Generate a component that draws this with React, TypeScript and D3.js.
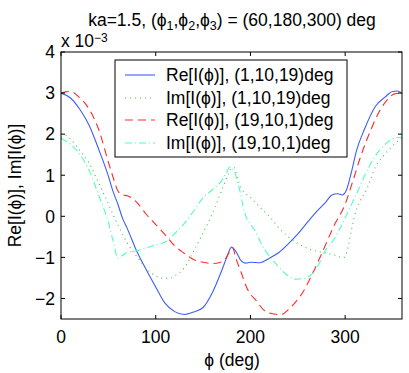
import React from "react";
import * as d3 from "d3";

const phiBlue = [0, 10, 20, 30, 40, 50, 55, 60, 65, 70, 80, 90, 100, 110, 120, 130, 140, 150, 160, 170, 175, 180, 185, 190, 195, 200, 210, 220, 230, 240, 250, 260, 270, 280, 286, 292, 297, 301, 306, 312, 320, 332, 342, 350, 355, 360];
const reBlue = [3.0, 2.88, 2.6, 2.2, 1.62, 0.98, 0.6, 0.3, -0.05, -0.3, -0.85, -1.3, -1.72, -2.12, -2.32, -2.39, -2.33, -2.22, -1.85, -1.3, -1.0, -0.75, -0.87, -1.08, -1.14, -1.12, -1.13, -1.02, -0.88, -0.67, -0.43, -0.15, 0.12, 0.36, 0.52, 0.55, 0.52, 0.62, 1.02, 1.6, 2.1, 2.68, 2.9, 3.04, 3.05, 3.0];

const phiGreen = [0, 5, 10, 20, 30, 40, 50, 55, 60, 70, 80, 90, 100, 110, 115, 120, 130, 140, 150, 160, 170, 177, 180, 183, 186, 190, 195, 200, 210, 220, 230, 240, 250, 260, 270, 280, 290, 298, 302, 306, 311, 316, 322, 332, 343, 353, 360];
const imGreen = [1.92, 1.97, 1.88, 1.6, 1.28, 0.8, 0.3, 0.04, -0.2, -0.65, -0.98, -1.27, -1.45, -1.51, -1.51, -1.45, -1.26, -0.85, -0.4, 0.08, 0.65, 1.05, 1.18, 1.18, 0.95, 0.7, 0.55, 0.46, 0.22, 0.0, -0.28, -0.5, -0.66, -0.78, -0.85, -0.9, -0.95, -1.01, -0.85, -0.4, 0.1, 0.38, 0.62, 1.2, 1.54, 1.78, 1.9];

const phiRed = [0, 5, 10, 20, 30, 40, 50, 55, 60, 65, 70, 80, 90, 100, 110, 120, 130, 140, 150, 160, 167, 173, 177, 181, 185, 190, 195, 200, 205, 215, 225, 232, 240, 250, 255, 265, 275, 288, 300, 308, 317, 327, 336, 345, 352, 360];
const reRed = [3.0, 3.03, 3.04, 2.88, 2.6, 2.1, 1.32, 0.95, 0.62, 0.52, 0.5, 0.34, 0.05, -0.2, -0.45, -0.72, -0.9, -1.05, -1.12, -1.15, -1.13, -1.05, -0.9, -0.76, -1.05, -1.35, -1.68, -1.9, -2.02, -2.3, -2.38, -2.4, -2.27, -2.02, -1.86, -1.42, -0.92, -0.24, 0.3, 0.85, 1.5, 2.1, 2.55, 2.85, 2.98, 3.0];

const phiCyan = [0, 10, 20, 30, 40, 45, 50, 55, 60, 65, 70, 80, 90, 100, 110, 120, 130, 140, 150, 160, 170, 175, 178, 182, 187, 194, 204, 215, 229, 236, 248, 258, 269, 280, 287, 294, 304, 313, 325, 336, 350, 360];
const imCyan = [1.9, 1.75, 1.5, 1.1, 0.5, 0.2, -0.15, -0.6, -1.02, -0.95, -0.88, -0.84, -0.77, -0.7, -0.62, -0.42, -0.18, 0.13, 0.45, 0.65, 0.88, 1.08, 1.2, 1.13, 0.8, 0.08, -0.32, -0.81, -1.21, -1.38, -1.53, -1.5, -1.3, -0.8, -0.6, -0.32, 0.16, 0.6, 1.2, 1.6, 1.88, 1.93];

const xTicks = [0, 100, 200, 300];
const yTicks = [-2, -1, 0, 1, 2, 3, 4];

const seriesLabels = [
  "Re[I(\u03d5)], (1,10,19)deg",
  "Im[I(\u03d5)], (1,10,19)deg",
  "Re[I(\u03d5)], (19,10,1)deg",
  "Im[I(\u03d5)], (19,10,1)deg",
];
const colors = ["#3d5ef5", "#3cc83c", "#ff2a2a", "#4dffbf"];
const dashes = ["", "1,4", "8,5", "7,3,1,3"];

export default function App() {
  const W = 409, H = 373;
  const L = 61, R = 402, T = 52, B = 319;
  const x = d3.scaleLinear().domain([0, 360]).range([L, R]);
  const y = d3.scaleLinear().domain([-2.5, 4]).range([B, T]);
  const line = d3
    .line<[number, number]>()
    .x((d) => x(d[0]))
    .y((d) => y(d[1]))
    .curve(d3.curveMonotoneX);
  const data: [number, number][][] = [
    phiBlue.map((p, i) => [p, reBlue[i]]),
    phiGreen.map((p, i) => [p, imGreen[i]]),
    phiRed.map((p, i) => [p, reRed[i]]),
    phiCyan.map((p, i) => [p, imCyan[i]]),
  ];
  const font = "Liberation Sans, Arial, Helvetica, sans-serif";
  const fs = 17.5;
  const tk = 4;
  const legX = 115, legY = 60, legW = 232, legH = 97;
  const rowY = [75, 98, 120, 143];
  return (
    <svg width={W} height={H} style={{ position: "absolute", left: 0, top: 0, background: "#fff" }} fontFamily={font}>
      <rect x={0} y={0} width={W} height={H} fill="#fff" />
      <defs>
        <clipPath id="plotclip">
          <rect x={L} y={T} width={R - L} height={B - T} />
        </clipPath>
      </defs>
      <g clipPath="url(#plotclip)">
        {data.map((d, i) => (
          <path key={i} d={line(d) || ""} fill="none" stroke={colors[i]} strokeWidth={1.1} strokeDasharray={dashes[i]} />
        ))}
      </g>
      <rect x={L} y={T} width={R - L} height={B - T} fill="none" stroke="#000" strokeWidth={1} />
      {xTicks.map((t) => (
        <g key={"x" + t}>
          <line x1={x(t)} x2={x(t)} y1={B} y2={B - tk} stroke="#000" />
          <line x1={x(t)} x2={x(t)} y1={T} y2={T + tk} stroke="#000" />
          <text x={x(t)} y={343} fontSize={fs} textAnchor="middle">{t}</text>
        </g>
      ))}
      {yTicks.map((t) => (
        <g key={"y" + t}>
          <line x1={L} x2={L + tk} y1={y(t)} y2={y(t)} stroke="#000" />
          <line x1={R} x2={R - tk} y1={y(t)} y2={y(t)} stroke="#000" />
          <text x={55} y={y(t) + 6.3} fontSize={fs} textAnchor="end">{t < 0 ? "\u2212" + Math.abs(t) : t}</text>
        </g>
      ))}
      <rect x={legX} y={legY} width={legW} height={legH} fill="#fff" stroke="#000" strokeWidth={1} />
      {seriesLabels.map((s, i) => (
        <g key={"l" + i}>
          <line x1={125} x2={155} y1={rowY[i]} y2={rowY[i]} stroke={colors[i]} strokeWidth={1.1} strokeDasharray={dashes[i]} />
          <text x={166} y={rowY[i] + 6.3} fontSize={fs}>{s}</text>
        </g>
      ))}
      <text x={61} y={47} fontSize={fs}>
        x 10<tspan dy={-5} fontSize={12}>{"\u22123"}</tspan>
      </text>
      <text x={232} y={26} fontSize={fs} textAnchor="middle">
        {"ka=1.5, (\u03d5"}
        <tspan dy={4} fontSize={12.5}>1</tspan>
        <tspan dy={-4}>{",\u03d5"}</tspan>
        <tspan dy={4} fontSize={12.5}>2</tspan>
        <tspan dy={-4}>{",\u03d5"}</tspan>
        <tspan dy={4} fontSize={12.5}>3</tspan>
        <tspan dy={-4}>{") = (60,180,300) deg"}</tspan>
      </text>
      <text x={232} y={366} fontSize={fs} textAnchor="middle">{"\u03d5 (deg)"}</text>
      <text transform={`translate(21,${(T + B) / 2}) rotate(-90)`} fontSize={fs} textAnchor="middle">
        {"Re[I(\u03d5)], Im[I(\u03d5)]"}
      </text>
    </svg>
  );
}
